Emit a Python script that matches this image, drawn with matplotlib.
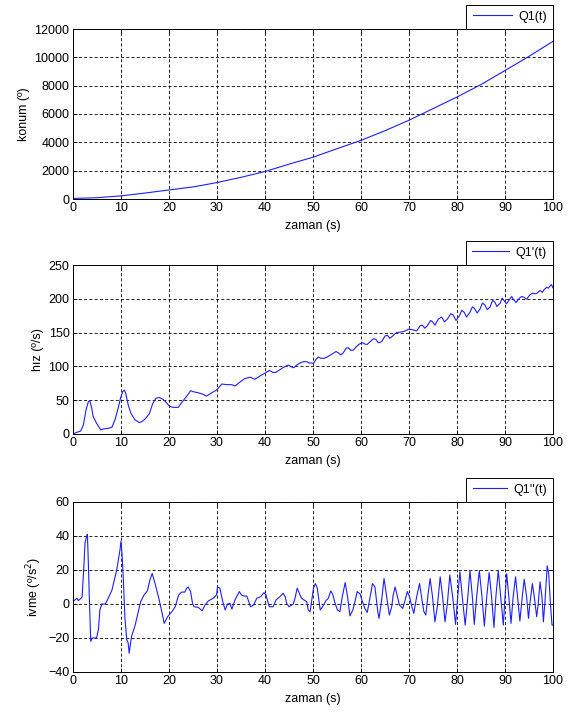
import matplotlib
matplotlib.use("Agg")
import matplotlib.pyplot as plt

plt.rcParams['font.family'] = ['Liberation Sans', 'DejaVu Sans']
plt.rcParams['font.size'] = 9
plt.rcParams['lines.scale_dashes'] = False

# ---- data ----
t_pos = [0, 5, 10, 15, 20, 25, 30, 35, 40, 45, 50, 55, 60, 65, 70, 75, 80, 85, 90, 95, 100]
pos = [40, 90, 220, 420, 640, 850, 1160, 1530, 1940, 2460, 2950, 3550, 4140, 4820, 5560, 6380, 7200, 8080, 9070, 10070, 11130]

t_vel = [0, 0.6, 1.6, 2.15, 2.7, 3.2, 3.5, 3.9, 4.2, 4.9, 5.8, 6.3, 7.4, 8.1, 8.75, 9.4, 9.9,
         10.35, 10.7, 11.0, 11.5, 12.1, 12.9, 13.8, 14.3, 15.0, 15.9, 16.6, 17.3, 18.0, 18.8,
         19.5, 20.1, 20.9, 21.9, 22.6, 23.7, 24.5, 25.1, 26.1, 27.0, 27.8, 28.9, 29.9, 31.0,
         32.0, 33.1, 33.75, 34.8, 35.8, 36.9, 37.9, 39.0, 40.0, 40.9, 41.7, 42.2, 43.1, 43.8,
         44.9, 45.4, 46.0, 46.6, 47.3, 48.0, 48.7, 49.2, 49.7, 50.1, 50.6, 51.1, 51.6, 52.3,
         53.0, 53.9, 54.8, 55.3, 55.8, 56.3, 56.9, 57.4, 57.8, 58.4, 59.0, 59.65, 60.35, 60.8,
         61.3, 61.9, 62.6, 63.1, 63.6, 64.3, 65.0, 65.5, 66.0, 66.6, 67.4, 68.5, 69.2, 69.9,
         70.9, 71.6, 72.3, 72.8, 73.3, 73.8, 74.5, 74.9, 75.4, 76.1, 76.8, 77.4, 78.0, 78.7,
         79.2, 79.8, 80.5, 81.0, 81.5, 82.0, 82.7, 83.2, 83.6, 84.2, 84.8, 85.3, 85.8, 86.3,
         86.9, 87.4, 87.9, 88.3, 89.0, 89.4, 89.8, 90.3, 90.9, 91.4, 91.7, 92.3, 93.0, 93.5,
         94.0, 94.5, 95.2, 95.8, 96.3, 96.7, 97.3, 97.8, 98.1, 98.7, 99.0, 99.4, 99.7, 100]
vel = [0, 2, 4.4, 13, 35, 48, 49, 38, 26, 16, 6, 7.4, 8.4, 10, 21, 38, 53,
       62.5, 65, 60, 43, 30, 21, 17, 18, 22, 30, 45, 53, 54, 51,
       46, 41, 39.4, 39.4, 46, 56, 64, 62.5, 61, 59, 56, 61, 65, 74,
       73, 73, 71, 77, 82, 84, 81, 86, 90, 94, 91, 91, 95, 98.5,
       102, 99.5, 98, 102, 105, 107, 107, 105, 105, 104.4, 110, 114, 112, 112,
       114, 118, 122, 120, 117, 120, 127, 127.6, 124, 124, 129, 133, 135, 133,
       132.5, 136.5, 141, 140, 135, 136.5, 145, 146, 141.6, 145, 150, 151, 152.5, 155,
       154, 152.5, 160, 161, 156.4, 160, 168, 166, 161, 170, 173, 166, 170, 178,
       176, 168, 175, 183, 180, 173, 180, 188, 186, 179, 185, 193.6, 191, 184,
       188, 197.5, 195, 188.6, 193.6, 201, 197.5, 192.6, 198.5, 203.5, 199.5, 194.5, 201, 203.5,
       202, 199.5, 206, 208.4, 207.4, 208.4, 212.4, 209.4, 213.4, 217, 215.8, 219, 221, 216]

t_acc = [0, 0.8, 1.1, 1.7, 1.9, 2.3, 2.5, 2.85, 3.0, 3.2, 3.4, 3.7, 4.0, 4.9, 5.3, 5.6, 6.0,
         6.7, 7.0, 8.1, 9.1, 9.8, 10.0, 10.2, 10.5, 10.8, 11.2, 11.5, 11.7, 12.2, 12.9, 13.6,
         14.1, 14.8, 15.5, 16.0, 16.5, 17.1, 17.8, 18.5, 19.0, 19.7, 20.6, 21.3, 21.6, 22.0,
         22.6, 23.3, 23.7, 24.0, 24.5, 24.9, 25.2, 26.1, 26.9, 27.5, 28.2, 29.2, 29.9, 30.1,
         30.6, 31.2, 31.7, 32.2, 32.7, 33.1, 33.75, 34.65, 35.1, 35.6, 36.2, 36.5, 37.0, 37.6,
         38.3, 39.1, 39.8, 40.2, 40.7, 40.9, 41.7, 42.3, 43.1, 43.8, 44.2, 44.5, 45.0, 45.9,
         46.25, 46.7, 47.3, 47.6, 48.1, 48.7, 49.0, 49.4, 49.7, 50.1, 50.5, 50.9, 51.5, 52.0,
         52.7, 53.2, 53.7, 54.1, 54.6, 55.1, 55.6, 56.1, 56.7, 57.2, 57.7, 58.3, 58.75, 59.2,
         59.8, 60.3, 60.8, 61.3, 61.9, 62.4, 62.9, 63.5, 63.75, 64.3, 64.8, 65.35, 65.9, 66.4,
         66.7, 67.1, 67.6, 68.0, 68.7, 69.2, 69.65, 70.1, 70.6, 71.0, 71.6, 72.2, 72.6, 73.1,
         73.5, 74.0, 74.4, 74.9, 75.4, 75.9, 76.5, 77.0, 77.5, 78.0, 78.5, 79.1, 79.7, 80.1,
         80.6, 81.1, 81.7, 82.2, 82.7, 83.2, 83.6, 84.1, 84.65, 85.2, 85.7, 86.2, 86.7, 87.2,
         87.7, 88.1, 88.6, 89.1, 89.65, 90.0, 90.35, 90.8, 91.25, 91.7, 92.2, 92.6, 93.1, 93.6,
         94.0, 94.5, 94.9, 95.2, 95.7, 96.1, 96.6, 96.9, 97.3, 97.7, 98.0, 98.3, 98.8, 99.1,
         99.5, 99.8, 100]
acc = [1.4, 3.4, 2, 3.4, 4.3, 24, 36, 40, 41, 24, 4, -22, -20, -20, -15, -3.5, 0,
       0, 1.4, 8, 20, 32, 37, 30, 14, -7.5, -21, -23, -29, -19, -13, -4.5,
       1.4, 5.3, 7.7, 14, 18, 12, 4.3, -4.5, -11.4, -7.5, -4.5, -1.6, 1.4, 5.3,
       7, 7, 9.3, 10, 7.3, 0.4, -1.6, -2, -4, -0.6, 1.8, 3.4, 5.3, 10,
       9.3, 1.4, -3.5, 0, 0.4, -3, 2.4, 7.3, 5.3, 4.7, 4.7, 2.4, -1.6, -0.6,
       3.4, 4.3, 6.7, 5.3, 0.4, -1.6, -1.6, 2.4, 4.3, 6.3, 4.3, 0.4, -1.6, 0,
       3.4, 9.3, 5.3, 3.4, 2.4, 1.4, -3.5, -4.5, 1.4, 9.3, 12, 9.3, -3.5, -1.6,
       2, 3.4, 7.7, 5.7, 0.4, -3.5, -4.5, 4.3, 12.6, 4.3, -7, -3.5, 1.4, 7.3,
       6, 1.4, -2.6, -5, 4.3, 12, 10, -4.5, -8.5, 2.4, 15, 4.3, -6.5, -1.6,
       5.3, 10, 4.3, -0.6, -2.6, 2.4, 7.3, 4.3, -1.6, -5.5, 4.3, 12, 4.3, -4.5,
       -6.5, 6.3, 15, 4.3, -10.5, -1.6, 16, 4.3, -10.5, 0.4, 17, 4.3, -12, 2.4,
       19, 4.3, -12.4, 2.4, 19.7, 4.3, -12, 4.3, 19.7, 4.3, -13, 4.3, 18.5, 4.3,
       -13.8, 4.3, 19.7, 4.3, -12.4, 4.3, 17.8, 4.3, -11.4, 4.3, 16, 4.3, -10, 4.3,
       14.6, 4.3, -8.5, 0.4, 12, 4.3, -7.5, -0.6, 13, 4.3, -10.5, 0.4, 22.5, 18,
       -1.6, -12.4, -12.4]

x_ticks = [0, 10, 20, 30, 40, 50, 60, 70, 80, 90, 100]
pos_ticks = [0, 2000, 4000, 6000, 8000, 10000, 12000]
vel_ticks = [0, 50, 100, 150, 200, 250]
acc_ticks = [-40, -20, 0, 20, 40, 60]

W, H = 571, 715
fig = plt.figure(figsize=(W / 100, H / 100), dpi=100)
fig.patch.set_facecolor('white')

left = 73 / W
width = (553 - 73) / W
panels = [
    (29, 199, t_pos, pos, pos_ticks, 'konum (º)', 'Q1(t)', 3.14),
    (265, 434, t_vel, vel, vel_ticks, 'hız (º/s)', "Q1'(t)", 2.98),
    (502, 672, t_acc, acc, acc_ticks, 'ivme (º/s$^2$)', "Q1''(t)", 2.74),
]

for top, bot, tx, yv, yt, ylab, leg, hl in panels:
    ax = fig.add_axes([left, 1 - bot / H, width, (bot - top) / H])
    ax.plot(tx, yv, color='#1f1fff', lw=0.8, label=leg)
    ax.set_xlim(0, 100)
    ax.set_ylim(yt[0], yt[-1])
    ax.set_xticks(x_ticks)
    ax.set_yticks(yt)
    ax.grid(True, color='black', lw=0.6, linestyle=(0, (2.2, 1.6)))
    ax.tick_params(direction='in', length=3, width=0.6, top=True, right=True,
                   labelsize=9, pad=2.5, colors='black')
    for s in ax.spines.values():
        s.set_linewidth(0.7)
        s.set_color('black')
    ax.set_xlabel('zaman (s)', fontsize=9, labelpad=4)
    ax.set_ylabel(ylab, fontsize=9, labelpad=3)
    lg = ax.legend(loc='lower right', bbox_to_anchor=(1.0, 1.0), borderaxespad=0,
                   fancybox=False, framealpha=1, edgecolor='black', fontsize=9,
                   handlelength=hl, handletextpad=0.5, borderpad=0.5)
    lg.get_frame().set_linewidth(0.7)

fig.savefig('out.png', dpi=100, facecolor='white')
